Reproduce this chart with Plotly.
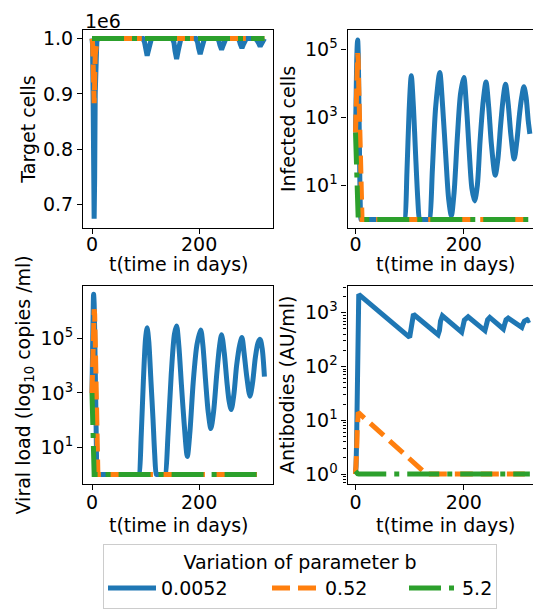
import plotly.graph_objects as go

W, H = 533, 609
FONT = "DejaVu Sans"

# ---------------- data ----------------
series_names = ["0.0052", "0.52", "5.2"]
colors = ["#1f77b4", "#ff7f0e", "#2ca02c"]
dashes = ["solid", "18px,8px", "32px,8px,5px,8px"]
legend_widths = [101, 74, 29]
shapes_smooth = {"T": "linear", "I": "spline", "V": "spline", "A": "linear"}

# Target cells
t_target_blue = [0, 1, 2, 3, 4, 5, 6, 7, 9, 12, 60,
                 95, 98, 100, 103, 106, 108, 111,
                 150, 153, 155, 158, 161, 163, 166,
                 194, 197, 199, 202, 205, 207, 210,
                 234, 237, 239, 242, 245, 247, 250,
                 272, 275, 277, 280, 283, 285, 288,
                 306, 309, 311, 314, 317, 319, 322]
target_blue = [1.0e6, 0.99e6, 0.90e6, 0.72e6, 0.674e6, 0.75e6, 0.90e6, 0.97e6, 0.995e6, 1.0e6, 1.0e6,
               1.0e6, 0.994e6, 0.981e6, 0.969e6, 0.981e6, 0.994e6, 1.0e6,
               1.0e6, 0.993e6, 0.978e6, 0.963e6, 0.978e6, 0.993e6, 1.0e6,
               1.0e6, 0.994e6, 0.983e6, 0.972e6, 0.983e6, 0.994e6, 1.0e6,
               1.0e6, 0.996e6, 0.988e6, 0.980e6, 0.988e6, 0.996e6, 1.0e6,
               1.0e6, 0.997e6, 0.990e6, 0.983e6, 0.990e6, 0.997e6, 1.0e6,
               1.0e6, 0.997e6, 0.992e6, 0.986e6, 0.992e6, 0.997e6, 1.0e6]
t_target_orange = [0, 1, 2, 3, 4, 5, 6, 8, 10, 322]
target_orange = [1.0e6, 0.995e6, 0.96e6, 0.90e6, 0.883e6, 0.92e6, 0.97e6, 0.995e6, 1.0e6, 1.0e6]
t_target_green = [0, 322]
target_green = [1.0e6, 1.0e6]

# Infected cells
t_inf_blue = [0, 1, 2, 3, 4, 5, 6, 7, 8, 9, 10, 11, 50, 90, 91,
              95, 99, 103, 107, 111, 115, 118, 119, 136, 137,
              142, 148, 155.6, 161, 167, 172, 177,
              182, 188, 194, 200, 205, 210, 215, 220,
              225, 230, 236, 241, 246, 251, 258,
              263, 268, 273, 277, 282, 287, 293,
              298, 303, 307, 311, 315, 319, 322]
inf_blue = [360, 3000, 3e4, 1.2e5, 1.9e5, 8e4, 6000, 300, 15, 2, 1, 1, 1, 1, 1,
            25, 1600, 1.7e4, 2000, 80, 4, 1, 1, 1, 1,
            30, 2000, 2.1e4, 2000, 60, 4, 1.3,
            6, 250, 5000, 1.5e4, 2000, 100, 8, 3.5,
            10, 200, 3200, 1.1e4, 2000, 160, 20,
            60, 600, 4000, 9500, 2500, 300, 60,
            200, 1300, 4000, 8000, 4000, 800, 330]
t_inf_orange = [0, 1, 2, 3, 4, 5, 6, 7, 8, 9, 10, 12, 322]
inf_orange = [360, 2000, 1e4, 4e4, 7.8e4, 5e4, 8000, 800, 60, 6, 1.5, 1, 1]
t_inf_green = [0, 1, 2, 3, 4, 5, 322]
inf_green = [360, 60, 12, 3, 1.5, 1, 1]

# Viral load
t_vir_blue = [0, 1, 2, 3, 4, 5, 6, 7, 8, 9, 10, 11, 50, 87, 88,
              92, 96, 100, 103, 106, 110, 114, 117, 120, 121, 136, 137,
              142, 148, 154, 158, 162, 167, 172, 178,
              183, 189, 196, 203, 207, 212, 217, 222,
              227, 233, 238, 242, 247, 252, 256, 260,
              265, 270, 276, 280, 284, 289, 295,
              300, 305, 310, 314, 318, 322]
vir_blue = [1e3, 3e4, 6e5, 4.3e6, 2e6, 2e5, 1e4, 500, 20, 1.5, 1, 1, 1, 1, 1,
            30, 3000, 1e5, 2.5e5, 8e4, 3000, 100, 6, 1, 1, 1, 1,
            30, 5000, 1.5e5, 2.9e5, 6e4, 2000, 80, 4.6,
            40, 2500, 6e4, 2.1e5, 6e4, 3000, 200, 49,
            200, 5000, 5e4, 1.4e5, 3e4, 2500, 500, 245,
            900, 1e4, 6e4, 1.1e5, 3e4, 4000, 760,
            2500, 2e4, 7e4, 9.4e4, 4e4, 4000]
t_vir_orange = [0, 1, 2, 3, 4, 5, 6, 7, 8, 9, 10, 11, 322]
vir_orange = [1e3, 8e3, 6e4, 4e5, 1.2e6, 8e5, 1e5, 1e4, 800, 60, 5, 1, 1]
t_vir_green = [0, 1, 2, 3, 4, 322]
vir_green = [1e3, 100, 12, 2, 1, 1]

# Antibodies
t_ab_blue = [0, 1, 2, 3, 4, 5, 6, 100, 102, 104, 107,
             152.5, 155, 157, 160.5, 196, 198, 201, 208,
             239, 241, 244, 248, 273, 275, 278, 282,
             307, 309, 312, 317, 319, 322]
ab_blue = [1.06, 1.4, 4, 30, 250, 1200, 2200, 350, 450, 750, 940,
           390, 470, 700, 880, 435, 520, 730, 840,
           465, 560, 740, 820, 500, 590, 740, 795,
           535, 610, 700, 745, 720, 745]
t_ab_orange = [0, 1, 2, 3, 4, 5, 131, 322]
ab_orange = [1.0, 1.3, 2.5, 6, 11, 14, 1.0, 1.0]
t_ab_green = [0, 1, 2, 4, 6, 322]
ab_green = [1.13, 1.08, 1.04, 1.01, 1.0, 1.0]

x_ticks = [0, 200]
target_ticks = [0.7e6, 0.8e6, 0.9e6, 1.0e6]
target_ticktext = ["0.7", "0.8", "0.9", "1.0"]
odd_log_ticks = [10, 1000, 1e5]
odd_log_text = ["10<sup>1</sup>", "10<sup>3</sup>", "10<sup>5</sup>"]
ab_ticks = [1, 10, 100, 1000]
ab_ticktext = ["10<sup>0</sup>", "10<sup>1</sup>", "10<sup>2</sup>", "10<sup>3</sup>"]
ab_minor = [0.7, 0.8, 0.9, 2, 3, 4, 5, 6, 7, 8, 9, 20, 30, 40, 50, 60, 70, 80, 90,
            200, 300, 400, 500, 600, 700, 800, 900, 2000, 3000]

# ---------------- figure ----------------
fig = go.Figure()


def px_x(a, b):
    return [a / W, b / W]


def px_y(top, bottom):
    return [1 - bottom / H, 1 - top / H]


panels = [
    ("x", "y", "T", [(t_target_blue, target_blue), (t_target_orange, target_orange),
                     (t_target_green, target_green)]),
    ("x2", "y2", "I", [(t_inf_blue, inf_blue), (t_inf_orange, inf_orange), (t_inf_green, inf_green)]),
    ("x3", "y3", "V", [(t_vir_blue, vir_blue), (t_vir_orange, vir_orange), (t_vir_green, vir_green)]),
    ("x4", "y4", "A", [(t_ab_blue, ab_blue), (t_ab_orange, ab_orange), (t_ab_green, ab_green)]),
]

for pi, (xa, ya, key, data) in enumerate(panels):
    for si, (tt, vv) in enumerate(data):
        shape = shapes_smooth[key] if si == 0 else "linear"
        fig.add_trace(go.Scatter(
            x=tt, y=vv, mode="lines", xaxis=xa, yaxis=ya,
            name=series_names[si], legendgroup=series_names[si],
            showlegend=(pi == 0), legendwidth=legend_widths[si],
            line=dict(color=colors[si], width=5, dash=dashes[si], shape=shape, smoothing=0.8),
        ))

axis_common = dict(
    showgrid=False, zeroline=False, showline=True, linecolor="black", linewidth=1.1,
    ticks="outside", ticklen=5, tickwidth=1.1, tickcolor="black",
    tickfont=dict(family=FONT, size=19, color="black"),
)
x_top = dict(axis_common, ticklabelstandoff=-6)
x_bottom = dict(axis_common, ticklabelstandoff=-4)
title_font = dict(family=FONT, size=19, color="black")

left_x = px_x(83, 273)
right_x = px_x(347.5, 533)
top_y = px_y(28, 228)
bot_y = px_y(286, 486)

x_title = "t(time in days)"
annotations = [dict(text="1e6", x=83 / W, y=1 - 19 / H, xref="paper", yref="paper",
                    xanchor="left", yanchor="middle", showarrow=False, font=title_font)]
for xc, yc in [(178, 264), (445, 264), (178, 527), (445, 527)]:
    annotations.append(dict(text=x_title, x=xc / W, y=1 - yc / H, xref="paper", yref="paper",
                            xanchor="center", yanchor="middle", showarrow=False, font=title_font))

fig.update_layout(
    width=W, height=H,
    margin=dict(l=0, r=0, t=0, b=0),
    paper_bgcolor="white", plot_bgcolor="white",
    font=dict(family=FONT, size=19, color="black"),
    xaxis=dict(domain=left_x, anchor="y", range=[-16.8, 338], tickvals=x_ticks, mirror=True,
               **x_top),
    yaxis=dict(domain=top_y, anchor="x", range=[0.657e6, 1.016e6], tickvals=target_ticks,
               ticktext=target_ticktext, mirror=True,
               title=dict(text="Target cells", font=title_font, standoff=2), **axis_common),
    xaxis2=dict(domain=right_x, anchor="y2", range=[-14.8, 327.8], tickvals=x_ticks, mirror=True,
                **x_top),
    yaxis2=dict(domain=top_y, anchor="x2", type="log", range=[-0.255, 5.58], tickvals=odd_log_ticks,
                ticktext=odd_log_text,
                title=dict(text="Infected cells", font=title_font, standoff=4), **axis_common),
    xaxis3=dict(domain=left_x, anchor="y3", range=[-16.8, 338], tickvals=x_ticks, mirror=True,
                **x_bottom),
    yaxis3=dict(domain=bot_y, anchor="x3", type="log", range=[-0.35, 6.95], tickvals=odd_log_ticks,
                ticktext=odd_log_text, mirror=True,
                title=dict(text="Viral load (log<sub>10</sub> copies /ml)", font=title_font, standoff=4),
                **axis_common),
    xaxis4=dict(domain=right_x, anchor="y4", range=[-14.8, 327.8], tickvals=x_ticks, mirror=True,
                **x_bottom),
    yaxis4=dict(domain=bot_y, anchor="x4", type="log", range=[-0.185, 3.505], tickvals=ab_ticks,
                ticktext=ab_ticktext,
                minor=dict(tickvals=ab_minor, ticks="outside", ticklen=3, tickwidth=0.8, tickcolor="black"),
                title=dict(text="Antibodies (AU/ml)", font=title_font, standoff=5), **axis_common),
    legend=dict(
        orientation="h", x=103 / W, xanchor="left", y=1 - 546 / H, yanchor="top",
        bordercolor="#cccccc", borderwidth=1, bgcolor="white",
        font=dict(family=FONT, size=19, color="black"),
        title=dict(text="Variation of parameter b", side="top center",
                   font=dict(family=FONT, size=19, color="black")),
        itemwidth=48,
    ),
    annotations=annotations,
)

fig.write_html("out.html", config={"displayModeBar": False},
               post_script="document.body.style.margin='0';document.body.style.overflow='hidden';")
